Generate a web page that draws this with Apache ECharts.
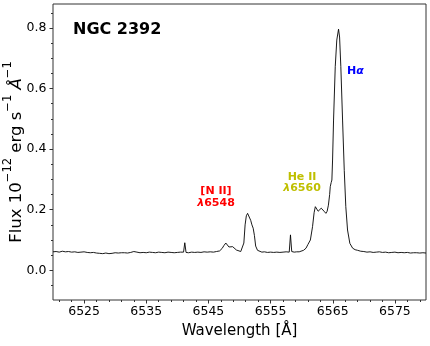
<!DOCTYPE html>
<html>
<head>
<meta charset="utf-8">
<script src="https://cdn.jsdelivr.net/npm/echarts@6/dist/echarts.min.js"></script>
<style>
html, body { margin: 0; padding: 0; background: #fff; }
#main { width: 430px; height: 346px; }
</style>
</head>
<body>
<div id="main"></div>
<script>
// spectrum
var wavelength = [
    6520.0, 6520.5, 6521.0, 6521.5, 6522.0, 6522.5, 6523.0, 6523.5, 6524.0, 6524.5,
    6525.0, 6525.5, 6526.0, 6526.5, 6527.0, 6527.5, 6528.0, 6528.5, 6529.0, 6529.5,
    6530.0, 6530.5, 6531.0, 6531.5, 6532.0, 6532.5, 6533.0, 6533.5, 6534.0, 6534.5,
    6535.0, 6535.5, 6536.0, 6536.5, 6537.0, 6537.5, 6538.0, 6538.5, 6539.0, 6539.5,
    6540.0, 6540.5, 6541.0, 6541.2, 6541.4, 6541.8, 6542.3, 6542.8, 6543.3, 6543.8,
    6544.3, 6544.8, 6545.3, 6545.8, 6546.3, 6546.8, 6547.2, 6547.5, 6547.8, 6548.0,
    6548.3, 6548.6, 6548.9, 6549.2, 6549.5, 6549.8, 6550.2, 6550.5, 6550.7, 6550.9,
    6551.1, 6551.3, 6551.5, 6551.8, 6552.0, 6552.2, 6552.4, 6552.6, 6552.9, 6553.2,
    6553.6, 6554.0, 6554.5, 6555.0, 6555.5, 6556.0, 6556.5, 6557.0, 6557.5, 6558.0,
    6558.2, 6558.4, 6558.8, 6559.2, 6559.6, 6559.9, 6560.3, 6560.7, 6561.0, 6561.4,
    6561.75, 6562.0, 6562.2, 6562.4, 6562.65, 6562.9, 6563.15, 6563.35, 6563.6, 6563.9,
    6564.1, 6564.3, 6564.5, 6564.6, 6564.75, 6564.86, 6564.97, 6565.13, 6565.4, 6565.65,
    6565.93, 6566.1, 6566.3, 6566.58, 6566.85, 6567.1, 6567.38, 6567.75, 6568.2, 6568.6,
    6569.0, 6569.5, 6570.0, 6570.5, 6571.0, 6571.5, 6572.0, 6572.5, 6573.0, 6573.5,
    6574.0, 6574.5, 6575.0, 6575.5, 6576.0, 6576.5, 6577.0, 6577.5, 6578.0, 6578.5,
    6579.0, 6579.5, 6580.0
];
var flux = [
    0.061, 0.062, 0.060, 0.063, 0.061, 0.062, 0.060, 0.061, 0.059, 0.060,
    0.061, 0.059, 0.058, 0.059, 0.057, 0.056, 0.055, 0.057, 0.055, 0.056,
    0.058, 0.057, 0.058, 0.058, 0.057, 0.059, 0.062, 0.060, 0.058, 0.059,
    0.058, 0.060, 0.059, 0.058, 0.060, 0.059, 0.058, 0.060, 0.059, 0.058,
    0.059, 0.060, 0.060, 0.091, 0.059, 0.058, 0.060, 0.059, 0.060, 0.059,
    0.061, 0.060, 0.061, 0.060, 0.062, 0.064, 0.072, 0.082, 0.090, 0.087,
    0.077, 0.075, 0.078, 0.074, 0.067, 0.062, 0.062, 0.065, 0.090, 0.150,
    0.180, 0.188, 0.183, 0.165, 0.150, 0.139, 0.115, 0.080, 0.066, 0.062,
    0.060, 0.061, 0.059, 0.060, 0.059, 0.060, 0.059, 0.060, 0.061, 0.060,
    0.117, 0.062, 0.060, 0.061, 0.061, 0.062, 0.066, 0.073, 0.085, 0.100,
    0.144, 0.190, 0.210, 0.216, 0.195, 0.190, 0.205, 0.207, 0.195, 0.188,
    0.195, 0.215, 0.250, 0.276, 0.290, 0.298, 0.364, 0.496, 0.672, 0.760,
    0.796, 0.770, 0.672, 0.496, 0.330, 0.210, 0.133, 0.089, 0.073, 0.068,
    0.066, 0.063, 0.062, 0.060, 0.061, 0.059, 0.060, 0.061, 0.059, 0.060,
    0.058, 0.059, 0.060, 0.058, 0.059, 0.058, 0.059, 0.057, 0.058, 0.058,
    0.057, 0.058, 0.057
];

var xTicks = [6525, 6535, 6545, 6555, 6565, 6575];
var xMinorTicks = [6521, 6523, 6527, 6529, 6531, 6533, 6537, 6539, 6541, 6543, 6547, 6549,
    6551, 6553, 6557, 6559, 6561, 6563, 6567, 6569, 6571, 6573, 6577, 6579];
var yTicks = [0, 0.2, 0.4, 0.6, 0.8];
var yMinorTicks = [-0.05, 0.05, 0.1, 0.15, 0.25, 0.3, 0.35, 0.45, 0.5, 0.55, 0.65, 0.7, 0.75, 0.85];

var points = wavelength.map(function (w, i) { return [w, flux[i]]; });

var FONT = 'DejaVu Sans';
var xMin = 6520, xMax = 6580, yMin = -0.098, yMax = 0.879;

var myChart = echarts.init(document.getElementById('main'));
myChart.setOption({
    animation: false,
    textStyle: { fontFamily: FONT },
    grid: {
        left: 53, right: 4, top: 4, bottom: 46,
        outerBoundsMode: 'none', containLabel: false,
        show: true, borderColor: '#333', borderWidth: 1, backgroundColor: 'transparent'
    },
    xAxis: [{
        type: 'value', min: xMin, max: xMax, position: 'bottom',
        name: 'Wavelength [Å]', nameLocation: 'middle', nameGap: 24, nameMoveOverlap: false,
        nameTextStyle: { fontFamily: FONT, fontSize: 15, color: '#000' },
        axisLine: { show: false, onZero: false },
        splitLine: { show: false },
        axisTick: { customValues: xTicks, length: 3.5, lineStyle: { color: '#333' } },
        axisLabel: {
            customValues: xTicks, margin: 5, color: '#000', fontSize: 12.5, fontFamily: FONT,
            formatter: function (v) { return String(v); }
        }
    }, {
        type: 'value', min: xMin, max: xMax, position: 'bottom',
        axisLine: { show: false, onZero: false }, splitLine: { show: false },
        axisLabel: { show: false },
        axisTick: { customValues: xMinorTicks, length: 2, lineStyle: { color: '#333' } }
    }],
    yAxis: [{
        type: 'value', min: yMin, max: yMax, position: 'left',
        name: '{n|Flux 10}{s|−12}{n| erg s}{s|−1}{n| }{i|Å}{s|−1}',
        nameLocation: 'middle', nameGap: 28, nameRotate: 90, nameMoveOverlap: false,
        nameTextStyle: {
            color: '#000',
            rich: {
                n: { fontFamily: FONT, fontSize: 16.5, color: '#000', lineHeight: 23, verticalAlign: 'bottom' },
                i: { fontFamily: FONT, fontSize: 16.5, fontStyle: 'italic', color: '#000', lineHeight: 23, verticalAlign: 'bottom' },
                s: { fontFamily: FONT, fontSize: 11.5, color: '#000', lineHeight: 12, verticalAlign: 'top' }
            }
        },
        axisLine: { show: false, onZero: false },
        splitLine: { show: false },
        axisTick: { customValues: yTicks, length: 3.5, lineStyle: { color: '#333' } },
        axisLabel: {
            customValues: yTicks, margin: 6.5, color: '#000', fontSize: 12.5, fontFamily: FONT,
            formatter: function (v) { return v.toFixed(1); }
        }
    }, {
        type: 'value', min: yMin, max: yMax, position: 'left',
        axisLine: { show: false, onZero: false }, splitLine: { show: false },
        axisLabel: { show: false },
        axisTick: { customValues: yMinorTicks, length: 2, lineStyle: { color: '#333' } }
    }],
    graphic: [{
        type: 'text', x: 73, y: 30,
        style: {
            text: 'NGC 2392', font: 'bold 16px "DejaVu Sans"', fill: '#000',
            textVerticalAlign: 'middle', verticalAlign: 'middle'
        }
    }, {
        type: 'text', x: 347, y: 71.5,
        style: {
            text: '{b|H}{g|α}', fill: '#0000ff',
            textVerticalAlign: 'middle', verticalAlign: 'middle',
            rich: {
                b: { fontFamily: FONT, fontSize: 11, fontWeight: 'bold', fill: '#0000ff', color: '#0000ff' },
                g: { fontFamily: FONT, fontSize: 11, fontStyle: 'italic', fontWeight: 'bold', fill: '#0000ff', color: '#0000ff' }
            }
        }
    }, {
        type: 'text', x: 216, y: 197,
        style: {
            text: '{b|[N II]}\n{g|λ}{b|6548}', fill: '#ff0000',
            textAlign: 'center', align: 'center',
            textVerticalAlign: 'middle', verticalAlign: 'middle',
            rich: {
                b: { fontFamily: FONT, fontSize: 11, fontWeight: 'bold', color: '#ff0000', lineHeight: 12 },
                g: { fontFamily: FONT, fontSize: 11, fontStyle: 'italic', fontWeight: 'bold', color: '#ff0000', lineHeight: 12 }
            }
        }
    }, {
        type: 'text', x: 302, y: 182.5,
        style: {
            text: '{b|He II}\n{g|λ}{b|6560}', fill: '#bfbf00',
            textAlign: 'center', align: 'center',
            textVerticalAlign: 'middle', verticalAlign: 'middle',
            rich: {
                b: { fontFamily: FONT, fontSize: 11, fontWeight: 'bold', color: '#bfbf00', lineHeight: 11.5 },
                g: { fontFamily: FONT, fontSize: 11, fontStyle: 'italic', fontWeight: 'bold', color: '#bfbf00', lineHeight: 11.5 }
            }
        }
    }],
    series: [{
        type: 'line',
        xAxisIndex: 0, yAxisIndex: 0,
        data: points,
        showSymbol: false,
        silent: true,
        lineStyle: { color: '#000', width: 0.9 }
    }]
});
</script>
</body>
</html>
